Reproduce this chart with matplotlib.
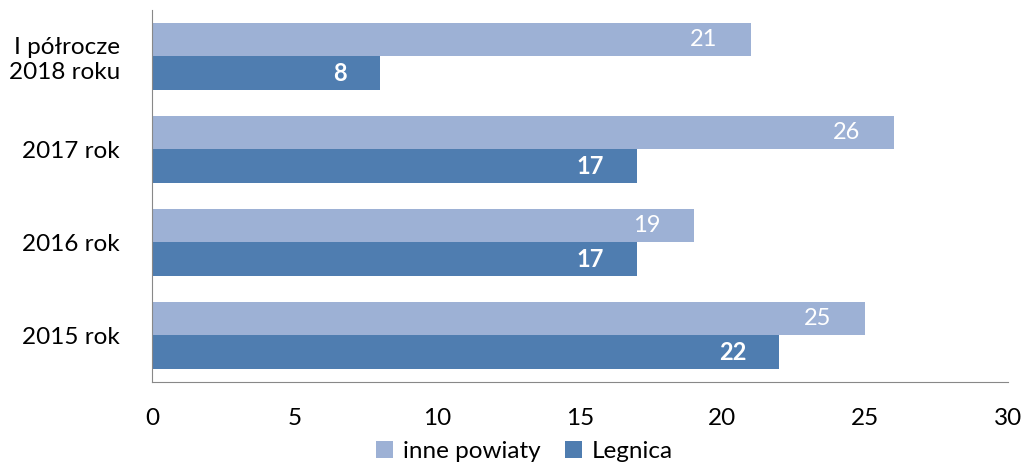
import numpy as np
import matplotlib.pyplot as plt

plt.rcParams['font.family'] = ['Lato', 'DejaVu Sans']

categories = ['I półrocze\n2018 roku', '2017 rok', '2016 rok', '2015 rok']
inne_powiaty = [21, 26, 19, 25]
legnica = [8, 17, 17, 22]

light = '#9DB1D5'
dark = '#4F7DB0'

fig = plt.figure(figsize=(10.24, 4.68), dpi=100)
ax = fig.add_axes([0.1485, 0.184, 0.8355, 0.795])

y = np.arange(len(categories))[::-1]
h = 0.36
ax.barh(y + h / 2, inne_powiaty, height=h, color=light, label='inne powiaty')
ax.barh(y - h / 2, legnica, height=h, color=dark, label='Legnica')

# value labels inside the bar ends
for yi, v in zip(y, inne_powiaty):
    ax.annotate(str(v), (v, yi + h / 2), xytext=(-24, 0), textcoords='offset points',
                ha='right', va='center', color='white', fontsize=17)
for yi, v in zip(y, legnica):
    ax.annotate(str(v), (v, yi - h / 2), xytext=(-24, 0), textcoords='offset points',
                ha='right', va='center', color='white', fontsize=17, fontweight='bold')

ax.set_xlim(0, 30)
ax.set_ylim(-0.5, len(categories) - 0.5)
ax.set_xticks(np.arange(0, 31, 5))
ax.set_yticks(y)
ax.set_yticklabels(categories, fontsize=17.5, multialignment='right')
ax.tick_params(axis='x', length=0, pad=19, labelsize=17.5)
ax.tick_params(axis='y', length=0, pad=23)

for s in ['top', 'right']:
    ax.spines[s].set_visible(False)
for s in ['left', 'bottom']:
    ax.spines[s].set_color('#888888')

fig.legend(loc='center', bbox_to_anchor=(0.512, 0.035), ncol=2,
           frameon=False, fontsize=17.5, handlelength=0.7, handleheight=0.7,
           columnspacing=1.0, handletextpad=0.4, borderpad=0)

fig.savefig('out.png', dpi=100)
